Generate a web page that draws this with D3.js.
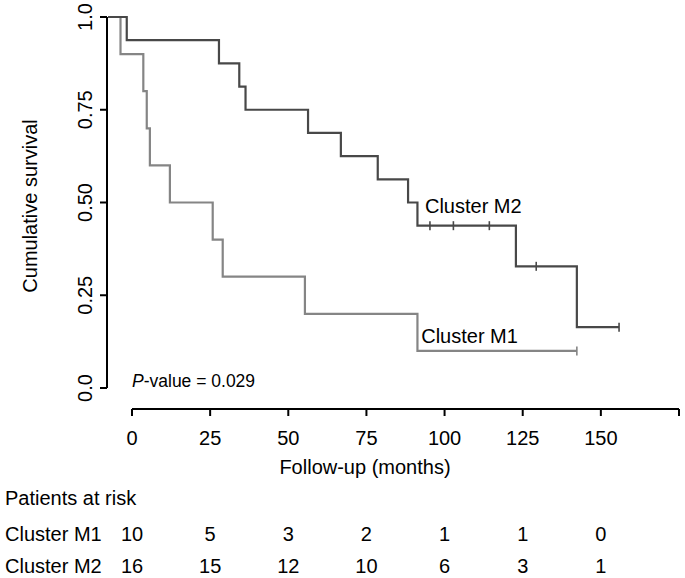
<!DOCTYPE html>
<html>
<head>
<meta charset="utf-8">
<script src="https://cdn.jsdelivr.net/npm/d3@7"></script>
<style>
  body { margin: 0; background: #fff; }
  text { font-family: "Liberation Sans", Arial, sans-serif; fill: #000; }
</style>
</head>
<body>
<svg id="chart" width="685" height="578"></svg>
<script>
// axis ticks
const xTicks = [0, 25, 50, 75, 100, 125, 150, 175];
const xTickLabels = ["0", "25", "50", "75", "100", "125", "150", ""];
const yTicks = [0, 0.25, 0.5, 0.75, 1.0];
const yTickLabels = ["0.0", "0.25", "0.50", "0.75", "1.0"];

// Kaplan-Meier steps (months, survival)
const m1Times = [0, 4, 11.3, 12.4, 13.4, 19.8, 33.5, 36.7, 63, 99];
const m1Surv = [1, 0.9, 0.8, 0.7, 0.6, 0.5, 0.4, 0.3, 0.2, 0.1];
const m1Censor = [150];
const m1End = 150;

const m2Times = [0, 6, 35.5, 42, 44, 64, 74.5, 86.3, 96, 99, 130.5, 150];
const m2Surv = [1, 0.9375, 0.875, 0.8125, 0.75, 0.6875, 0.625, 0.5625, 0.5, 0.4375, 0.328, 0.164];
const m2Censor = [103, 110.5, 122, 137, 163.5];
const m2End = 163.5;

// patients at risk
const riskTimes = [0, 25, 50, 75, 100, 125, 150];
const riskM1 = [10, 5, 3, 2, 1, 1, 0];
const riskM2 = [16, 15, 12, 10, 6, 3, 1];

const svg = d3.select("#chart");
const fontSize = "20px";

const x = d3.scaleLinear().domain([0, 175]).range([132, 679]);
// curves are drawn from the y axis, shifted left of the time axis
const xc = x.copy().range([108, 655]);
const y = d3.scaleLinear().domain([0, 1]).range([388, 17]);

// y axis
const yAxis = svg.append("g").attr("class", "axis left");
yAxis.append("line")
    .attr("x1", 107).attr("x2", 107)
    .attr("y1", y(1)).attr("y2", y(0))
    .attr("stroke", "#000").attr("stroke-width", 2);
yAxis.selectAll("line.tick")
    .data(yTicks)
  .enter().append("line")
    .attr("class", "tick")
    .attr("x1", 100).attr("x2", 107)
    .attr("y1", d => y(d)).attr("y2", d => y(d))
    .attr("stroke", "#000").attr("stroke-width", 2);
yAxis.selectAll("text")
    .data(yTicks)
  .enter().append("text")
    .attr("transform", d => "translate(92," + y(d) + ") rotate(-90)")
    .attr("text-anchor", "middle")
    .style("font-size", fontSize)
    .text((d, i) => yTickLabels[i]);

svg.append("text")
    .attr("transform", "translate(37,206) rotate(-90)")
    .attr("text-anchor", "middle")
    .style("font-size", fontSize)
    .text("Cumulative survival");

// x axis
const xAxis = svg.append("g").attr("class", "axis bottom");
xAxis.append("line")
    .attr("x1", x(0)).attr("x2", x(175))
    .attr("y1", 409).attr("y2", 409)
    .attr("stroke", "#000").attr("stroke-width", 2);
xAxis.selectAll("line.tick")
    .data(xTicks)
  .enter().append("line")
    .attr("class", "tick")
    .attr("x1", d => x(d)).attr("x2", d => x(d))
    .attr("y1", 409).attr("y2", 416)
    .attr("stroke", "#000").attr("stroke-width", 2);
xAxis.selectAll("text")
    .data(xTicks)
  .enter().append("text")
    .attr("x", d => x(d))
    .attr("y", 445)
    .attr("text-anchor", "middle")
    .style("font-size", fontSize)
    .text((d, i) => xTickLabels[i]);

svg.append("text")
    .attr("x", 365).attr("y", 474)
    .attr("text-anchor", "middle")
    .style("font-size", fontSize)
    .text("Follow-up (months)");

// survival curves
function stepPoints(times, surv, end) {
  const pts = times.map((t, i) => [t, surv[i]]);
  pts.push([end, surv[surv.length - 1]]);
  return pts;
}
function survAt(times, surv, t) {
  let s = surv[0];
  times.forEach((tt, i) => { if (tt <= t) s = surv[i]; });
  return s;
}

const line = d3.line()
    .x(d => xc(d[0]))
    .y(d => y(d[1]))
    .curve(d3.curveStepAfter);

const groups = [
  {name: "Cluster M1", times: m1Times, surv: m1Surv, censor: m1Censor, end: m1End, color: "#858585"},
  {name: "Cluster M2", times: m2Times, surv: m2Surv, censor: m2Censor, end: m2End, color: "#484848"}
];

groups.forEach(function(g) {
  svg.append("path")
      .attr("d", line(stepPoints(g.times, g.surv, g.end)))
      .attr("fill", "none")
      .attr("stroke", g.color)
      .attr("stroke-width", 2.2);
  svg.selectAll(null)
      .data(g.censor)
    .enter().append("line")
      .attr("x1", d => xc(d)).attr("x2", d => xc(d))
      .attr("y1", d => y(survAt(g.times, g.surv, d)) - 4.5)
      .attr("y2", d => y(survAt(g.times, g.surv, d)) + 4.5)
      .attr("stroke", g.color)
      .attr("stroke-width", 1.6);
});

// curve labels
svg.append("text")
    .attr("x", xc(101.4)).attr("y", y(0.472))
    .style("font-size", fontSize)
    .text("Cluster M2");
svg.append("text")
    .attr("x", xc(100.2)).attr("y", y(0.122))
    .style("font-size", fontSize)
    .text("Cluster M1");

// p-value
const pText = svg.append("text")
    .attr("x", 132).attr("y", 387)
    .style("font-size", "17.5px");
pText.append("tspan").style("font-style", "italic").text("P");
pText.append("tspan").text("-value = 0.029");

// risk table
svg.append("text")
    .attr("x", 5).attr("y", 505)
    .style("font-size", fontSize)
    .text("Patients at risk");

const riskRows = [
  {name: "Cluster M1", values: riskM1, yPos: 541},
  {name: "Cluster M2", values: riskM2, yPos: 573}
];
riskRows.forEach(function(r) {
  svg.append("text")
      .attr("x", 5).attr("y", r.yPos)
      .style("font-size", fontSize)
      .text(r.name);
  svg.selectAll(null)
      .data(riskTimes)
    .enter().append("text")
      .attr("x", d => x(d))
      .attr("y", r.yPos)
      .attr("text-anchor", "middle")
      .style("font-size", fontSize)
      .text((d, i) => r.values[i]);
});
</script>
</body>
</html>
